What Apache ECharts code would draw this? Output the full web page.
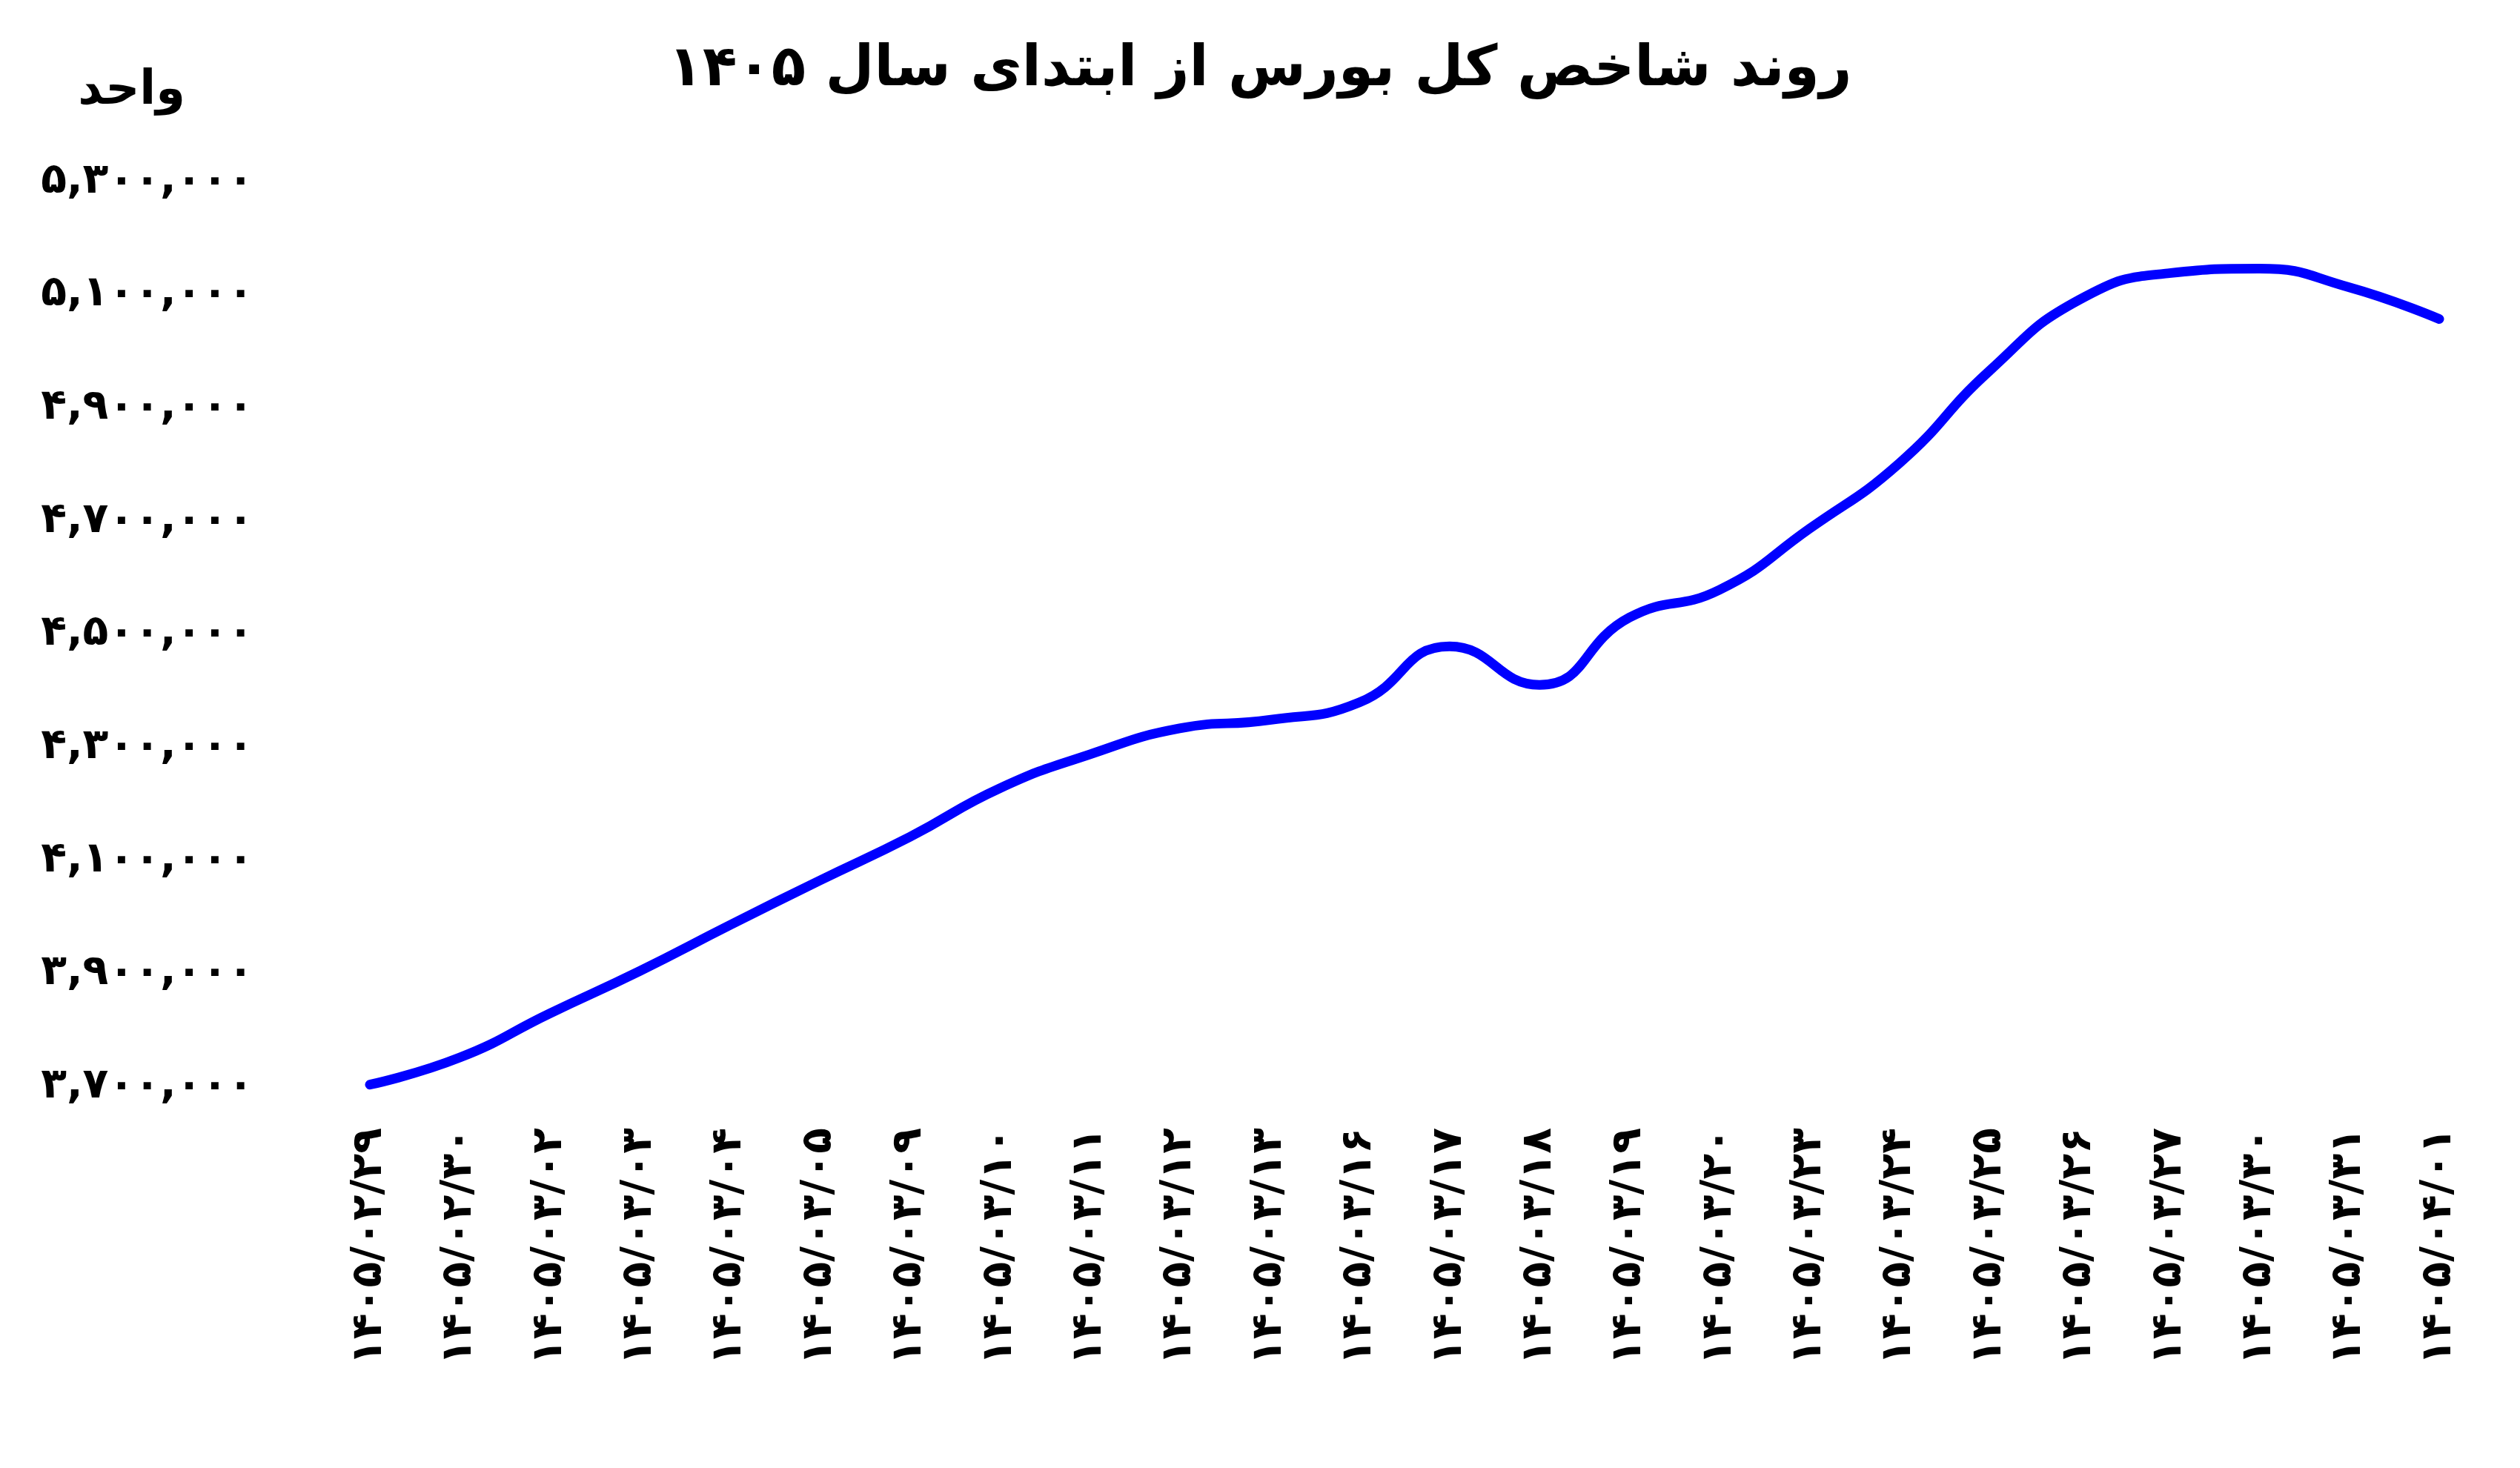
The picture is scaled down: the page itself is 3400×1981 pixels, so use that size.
<!DOCTYPE html>
<html lang="fa">
<head>
<meta charset="utf-8">
<script src="https://cdn.jsdelivr.net/npm/echarts@6/dist/echarts.min.js"></script>
<style>
  html, body { margin: 0; padding: 0; background: #fff; }
  #chart { width: 3400px; height: 1981px; }
</style>
</head>
<body>
<div id="chart"></div>
<script>
// روند شاخص کل بورس — مقادیر از روی تصویر تخمین زده شده‌اند

const titleText = 'روند شاخص کل بورس از ابتدای سال ۱۴۰۵'
const unitName = 'واحد'

const dates = [
  '۱۴۰۵/۰۲/۲۹', '۱۴۰۵/۰۲/۳۰', '۱۴۰۵/۰۳/۰۲', '۱۴۰۵/۰۳/۰۳', '۱۴۰۵/۰۳/۰۴', '۱۴۰۵/۰۳/۰۵',
  '۱۴۰۵/۰۳/۰۹', '۱۴۰۵/۰۳/۱۰', '۱۴۰۵/۰۳/۱۱', '۱۴۰۵/۰۳/۱۲', '۱۴۰۵/۰۳/۱۳', '۱۴۰۵/۰۳/۱۶',
  '۱۴۰۵/۰۳/۱۷', '۱۴۰۵/۰۳/۱۸', '۱۴۰۵/۰۳/۱۹', '۱۴۰۵/۰۳/۲۰', '۱۴۰۵/۰۳/۲۳', '۱۴۰۵/۰۳/۲۴',
  '۱۴۰۵/۰۳/۲۵', '۱۴۰۵/۰۳/۲۶', '۱۴۰۵/۰۳/۲۷', '۱۴۰۵/۰۳/۳۰', '۱۴۰۵/۰۳/۳۱', '۱۴۰۵/۰۴/۰۱',
]

const indexValues = [
  3703000, 3751000, 3829000, 3904000, 3985000, 4064000,
  4141000, 4227000, 4287000, 4333000, 4348000, 4379000,
  4478000, 4410000, 4529000, 4578000, 4686000, 4802000,
  4965000, 5091000, 5138000, 5146000, 5113000, 5057000,
]

// برچسب‌های محور عمودی هر ۲۰۰ هزار واحد
const yMin = 3700000
const yMax = 5300000
const yLabelStep = 200000

const faDigits = '۰۱۲۳۴۵۶۷۸۹'
function toFa(s) {
  return String(s).replace(/[0-9]/g, (d) => faDigits[+d])
}
function fmtFa(v) {
  return toFa(Math.round(v).toString().replace(/\B(?=(\d{3})+(?!\d))/g, ','))
}

const font = '"DejaVu Sans", sans-serif'

const chart = echarts.init(document.getElementById('chart'))
chart.setOption({
  backgroundColor: '#ffffff',
  animation: false,
  title: {
    text: titleText,
    left: 'center',
    top: 52,
    textStyle: { fontFamily: font, fontWeight: 'bold', fontSize: 76, color: '#000' },
  },
  grid: { left: 499, right: 109, top: 245, bottom: 515 },
  xAxis: {
    type: 'category',
    data: dates,
    boundaryGap: false,
    axisLine: { show: false },
    axisTick: { show: false },
    splitLine: { show: false },
    axisLabel: {
      rotate: 90,
      interval: 0,
      margin: 56,
      fontFamily: font,
      fontWeight: 'bold',
      fontSize: 57,
      color: '#000',
    },
  },
  yAxis: {
    type: 'value',
    min: yMin,
    max: yMax,
    interval: yLabelStep / 2,
    name: unitName,
    nameLocation: 'end',
    nameGap: 122,
    nameTextStyle: {
      fontFamily: font,
      fontWeight: 'bold',
      fontSize: 64,
      color: '#000',
      align: 'right',
      verticalAlign: 'middle',
      padding: [0, 249, 0, 0],
    },
    axisLine: { show: false },
    axisTick: { show: false },
    splitLine: { show: false },
    axisLabel: {
      margin: 157,
      fontFamily: font,
      fontWeight: 'bold',
      fontSize: 57,
      color: '#000',
      formatter: (v) => ((v - yMin) % yLabelStep === 0 ? fmtFa(v) : ''),
    },
  },
  series: [
    {
      type: 'line',
      data: indexValues,
      smooth: true,
      symbol: 'none',
      lineStyle: { color: '#0000ff', width: 13, cap: 'round' },
    },
  ],
})
</script>
</body>
</html>
